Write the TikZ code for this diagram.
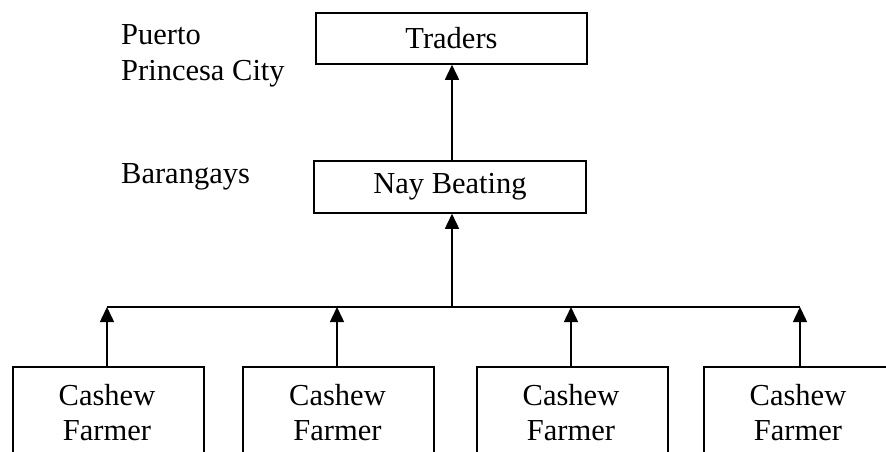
\documentclass[tikz,border=0pt]{standalone}
\usepackage{fontspec}
\setmainfont{Liberation Serif}
\usetikzlibrary{arrows.meta}
\begin{document}
\begin{tikzpicture}[x=1pt,y=-1pt,
  every node/.style={font=\fontsize{30.5}{35.5}\selectfont},
  topbox/.style={draw, line width=1.5pt, inner sep=0pt},
  farmerbox/.style={draw, line width=1.5pt, minimum width=191pt, minimum height=120pt, anchor=north west, inner sep=0pt},
  farmertext/.style={align=center, inner sep=0pt},
  lbl/.style={align=left, inner sep=0pt},
  link/.style={line width=1.5pt},
  arr/.style={line width=1.5pt, -{Triangle[length=15pt, width=14pt]}}]
\useasboundingbox (0,0) rectangle (886,451);
\clip (0,0) rectangle (886,451);
\fill[white] (0,0) rectangle (886,451);
% top boxes
\node[topbox, minimum width=271pt, minimum height=51pt] (tr) at (451.5,38.5) {Traders};
\node[topbox, minimum width=272pt, minimum height=52pt] (nb) at (450,187) {Nay Beating};
% labels
\node[lbl, anchor=north west] (pp) at (121,24.8) {Puerto\\Princesa City};
\node[lbl, anchor=base west] (bg) at (121,183) {Barangays};
% farmer boxes
\node[farmerbox] (f1) at (12,366) {};
\node[farmerbox] (f2) at (242,366) {};
\node[farmerbox] (f3) at (476,366) {};
\node[farmerbox] (f4) at (703,366) {};
\node[farmertext] (t1) at (107,412.6) {Cashew\\Farmer};
\node[farmertext] (t2) at (337.5,412.6) {Cashew\\Farmer};
\node[farmertext] (t3) at (571,412.6) {Cashew\\Farmer};
\node[farmertext] (t4) at (798,412.6) {Cashew\\Farmer};
% bus coordinates
\coordinate (j) at (452,307);
\coordinate (b1) at (107,307);
\coordinate (b2) at (337,307);
\coordinate (b3) at (571,307);
\coordinate (b4) at (800,307);
\draw[link] (b1) -- (b4);
\draw[arr] (j) -- (j |- nb.south);
\draw[arr] (j |- nb.north) -- (j |- tr.south);
\draw[arr] (b1 |- f1.north) -- (b1);
\draw[arr] (b2 |- f2.north) -- (b2);
\draw[arr] (b3 |- f3.north) -- (b3);
\draw[arr] (b4 |- f4.north) -- (b4);
\end{tikzpicture}
\end{document}
